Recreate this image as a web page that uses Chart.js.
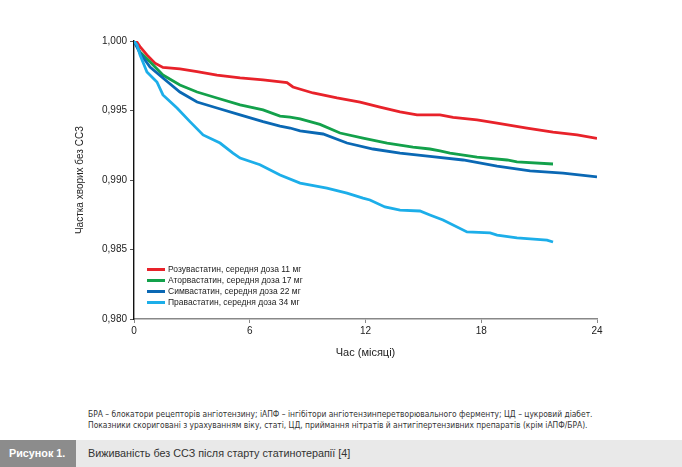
<!DOCTYPE html>
<html>
<head>
<meta charset="utf-8">
<script src="https://cdn.jsdelivr.net/npm/chart.js@4"></script>
<style>
  html, body { margin:0; padding:0; background:#fff; }
  body { width:682px; height:467px; position:relative; overflow:hidden; font-family:"Liberation Sans", Arial, sans-serif; }
  #wrap { position:absolute; left:0; top:0; width:682px; height:364px; }
  .note { position:absolute; left:88px; font-family:"Liberation Sans Narrow","DejaVu Sans Condensed","Liberation Sans",sans-serif; font-size:8.4px; color:#333; white-space:nowrap; line-height:11px; }
  #band { position:absolute; left:0; top:440px; width:682px; height:27px; background:#e9e9e9; }
  #fig { position:absolute; left:0; top:0; width:76px; height:27px; background:#8c8c8c; color:#fff; font-weight:bold; font-size:10.8px; line-height:27px; padding-left:9px; box-sizing:border-box; font-family:"Liberation Sans Narrow","Liberation Sans",sans-serif; }
  #cap { position:absolute; left:88px; top:0; line-height:27px; font-size:10.8px; color:#333; font-family:"Liberation Sans Narrow","Liberation Sans",sans-serif; white-space:nowrap; }
</style>
</head>
<body>
<div id="wrap"><canvas id="c" width="682" height="364"></canvas></div>
<div class="note" style="top:409px">БРА – блокатори рецепторів ангіотензину; іАПФ – інгібітори ангіотензинперетворювального ферменту; ЦД – цукровий діабет.</div>
<div class="note" style="top:420px">Показники скориговані з урахуванням віку, статі, ЦД, приймання нітратів й антигіпертензивних препаратів (крім іАПФ/БРА).</div>
<div id="band"><div id="fig">Рисунок 1.</div><div id="cap">Виживаність без ССЗ після старту статинотерапії [4]</div></div>
<script>
const seriesLabels = [
  'Розувастатин, середня доза 11 мг',
  'Аторвастатин, середня доза 17 мг',
  'Симвастатин, середня доза 22 мг',
  'Правастатин, середня доза 34 мг'
];
const xTicks = [0, 6, 12, 18, 24];
const yTicks = [0.980, 0.985, 0.990, 0.995, 1.000];

const rosuMonths = [0, 0.16, 0.31, 0.67, 1.09, 1.50, 2.38, 3.27, 4.30, 5.50, 6.69, 7.93, 8.24, 9.28, 10.52, 11.72, 12.75, 13.79, 14.67, 15.86, 16.54, 17.78, 18.82, 20.37, 21.72, 22.97, 24];
const rosuValues = [1.0, 0.9999, 0.9996, 0.9990, 0.9984, 0.9981, 0.9980, 0.9978, 0.99755, 0.99734, 0.9972, 0.9970, 0.99669, 0.99626, 0.9959, 0.99561, 0.99525, 0.9949, 0.99468, 0.99468, 0.9945, 0.99432, 0.9941, 0.99374, 0.99345, 0.99324, 0.9930];

const atorMonths = [0, 0.31, 0.83, 1.50, 2.38, 3.27, 4.30, 5.50, 6.69, 7.57, 8.09, 8.61, 9.64, 10.68, 11.87, 13.12, 14.46, 15.34, 15.86, 16.38, 17.78, 19.34, 19.85, 21.72];
const atorValues = [1.0, 0.9992, 0.9985, 0.99755, 0.99683, 0.99633, 0.9959, 0.9954, 0.99504, 0.9946, 0.99453, 0.9944, 0.9940, 0.99338, 0.99302, 0.99266, 0.99237, 0.99223, 0.99209, 0.99194, 0.99165, 0.99144, 0.9913, 0.99115];

const simvMonths = [0, 0.31, 0.83, 1.50, 2.38, 3.27, 4.30, 5.50, 6.69, 7.57, 8.09, 8.61, 9.80, 11.04, 12.39, 13.79, 15.34, 17.06, 18.82, 20.53, 22.24, 24];
const simvValues = [1.0, 0.99914, 0.99813, 0.99734, 0.99633, 0.99561, 0.99518, 0.99468, 0.9942, 0.99388, 0.99374, 0.99353, 0.99331, 0.99266, 0.99223, 0.99194, 0.9917, 0.99144, 0.991, 0.99065, 0.9905, 0.99022];

const pravMonths = [0, 0.16, 0.31, 0.67, 1.19, 1.50, 2.23, 2.90, 3.58, 4.46, 5.13, 5.50, 6.53, 7.57, 8.61, 10.0, 11.04, 11.87, 12.23, 13.01, 13.79, 14.82, 15.34, 16.02, 17.26, 18.46, 18.82, 19.85, 21.41, 21.72];
const pravValues = [1.0, 0.9997, 0.9990, 0.99777, 0.99705, 0.99612, 0.99518, 0.9942, 0.99324, 0.99266, 0.99194, 0.99158, 0.9911, 0.99036, 0.98978, 0.98942, 0.98906, 0.9887, 0.98856, 0.98806, 0.98784, 0.98777, 0.98748, 0.98712, 0.98626, 0.98619, 0.98604, 0.98583, 0.98568, 0.98554];

const colors = ['#e8222a', '#13a14b', '#0a68b4', '#1caee9'];
const monthSets = [rosuMonths, atorMonths, simvMonths, pravMonths];
const valueSets = [rosuValues, atorValues, simvValues, pravValues];

const datasets = seriesLabels.map((lab, i) => ({
  label: lab,
  data: monthSets[i].map((m, j) => ({x: m, y: valueSets[i][j]})),
  borderColor: colors[i],
  backgroundColor: colors[i],
  borderWidth: 2.8,
  pointRadius: 0,
  tension: 0,
  fill: false,
  showLine: true
})).reverse();

const legendPlugin = {
  id: 'insideLegend',
  afterDraw(chart) {
    const ctx = chart.ctx;
    ctx.save();
    ctx.font = '8.5px "Liberation Sans", Arial, sans-serif';
    ctx.textBaseline = 'middle';
    seriesLabels.forEach((lab, i) => {
      const y = 269.5 + i * 11;
      ctx.strokeStyle = colors[i];
      ctx.lineWidth = 3;
      ctx.beginPath();
      ctx.moveTo(147, y);
      ctx.lineTo(165, y);
      ctx.stroke();
      ctx.fillStyle = '#222';
      ctx.fillText(lab, 168, y + 0.5);
    });
    ctx.restore();
  }
};

new Chart(document.getElementById('c'), {
  type: 'scatter',
  data: { datasets },
  options: {
    responsive: false,
    animation: false,
    layout: { padding: { left: 72, top: 41, right: 85, bottom: 0 } },
    plugins: { legend: { display: false }, tooltip: { enabled: false } },
    scales: {
      x: {
        type: 'linear', min: 0, max: 24,
        afterFit(s) { s.height = 45; },
        afterBuildTicks(s) { s.ticks = xTicks.map(v => ({value: v})); },
        ticks: { color: '#222', font: { size: 10, family: '"Liberation Sans", Arial, sans-serif' }, padding: 2 },
        grid: { drawOnChartArea: false, drawTicks: true, tickLength: 4, color: '#888', lineWidth: 1 },
        border: { color: '#888', width: 1.6 },
        title: { display: true, text: 'Час (місяці)', color: '#222', font: { size: 11, family: '"Liberation Sans", Arial, sans-serif' }, padding: { top: 0, bottom: 4 } }
      },
      y: {
        type: 'linear', min: 0.980, max: 1.000,
        afterFit(s) { s.width = 62; },
        afterBuildTicks(s) { s.ticks = yTicks.map(v => ({value: v})); },
        ticks: { color: '#222', font: { size: 10, family: '"Liberation Sans", Arial, sans-serif' }, padding: 3,
          callback: v => Number(v).toFixed(3).replace('.', ',') },
        grid: { drawOnChartArea: false, drawTicks: true, tickLength: 4, color: '#555', lineWidth: 1 },
        border: { color: '#111', width: 1.4 },
        title: { display: true, text: 'Частка хворих без ССЗ', color: '#222', font: { size: 10, family: '"Liberation Sans", Arial, sans-serif' }, padding: { top: 2, bottom: 2 } }
      }
    }
  },
  plugins: [legendPlugin]
});
</script>
</body>
</html>
